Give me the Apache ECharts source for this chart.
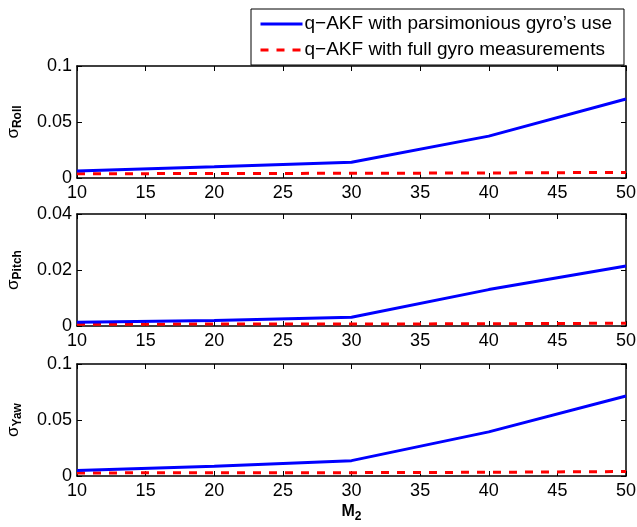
<!DOCTYPE html>
<html>
<head>
<meta charset="utf-8">
<script src="https://cdn.jsdelivr.net/npm/echarts@6/dist/echarts.min.js"></script>
<style>
  html, body { margin: 0; padding: 0; background: #fff; }
  #main { width: 637px; height: 527px; }
</style>
</head>
<body>
<div id="main"></div>
<script>
// M2 values on the x axis
var m2 = [10, 20, 30, 40, 50]
var seriesNames = ['q\u2212AKF with parsimonious gyro\u2019s use', 'q\u2212AKF with full gyro measurements']

// sigma values
var rollParsimonious = [0.0062, 0.010, 0.014, 0.0374, 0.0706]
var rollFull = [0.0038, 0.004, 0.0042, 0.0045, 0.005]
var pitchParsimonious = [0.0013, 0.002, 0.0031, 0.013, 0.0214]
var pitchFull = [0.0006, 0.0007, 0.0007, 0.0008, 0.001]
var yawParsimonious = [0.0048, 0.0086, 0.0137, 0.0394, 0.0714]
var yawFull = [0.0027, 0.003, 0.003, 0.0033, 0.004]

var panelLabels = ['Roll', 'Pitch', 'Yaw']
var panelMax = [0.1, 0.04, 0.1]
var panelStep = [0.05, 0.02, 0.05]
var panelTops = [66, 214, 364]

var chart = echarts.init(document.getElementById('main'))
var font = 'Liberation Sans, Arial, Helvetica, sans-serif'

function pairs(ys) {
  return m2.map(function (x, i) { return [x, ys[i]] })
}

var grids = [], xAxes = [], yAxes = [], series = []
var panelData = [
  [rollParsimonious, rollFull],
  [pitchParsimonious, pitchFull],
  [yawParsimonious, yawFull]
]

for (let g = 0; g < 3; g++) {
  grids.push({ left: 77, right: 11, top: panelTops[g], height: 112, outerBoundsMode: 'none', containLabel: false })

  // bottom axis with labels
  xAxes.push({
    type: 'value', gridIndex: g, min: 10, max: 50, interval: 5,
    axisLine: { onZero: false, lineStyle: { color: '#000', width: 1.5 } },
    axisTick: { inside: true, length: 5, lineStyle: { color: '#000' } },
    axisLabel: { color: '#000', fontSize: 18, fontFamily: font, margin: 6 },
    splitLine: { show: false },
    name: g == 2 ? '{m|M}{s|2}' : '',
    nameLocation: 'middle', nameGap: 24,
    nameTextStyle: {
      rich: {
        m: { fontSize: 16, fontWeight: 'bold', color: '#000', fontFamily: font },
        s: { fontSize: 12, fontWeight: 'bold', color: '#000', fontFamily: font, padding: [11, 0, 0, 0] }
      }
    }
  })
  // mirrored top axis (ticks only)
  xAxes.push({
    type: 'value', gridIndex: g, position: 'top', min: 10, max: 50, interval: 5,
    axisLine: { onZero: false, lineStyle: { color: '#000', width: 1.5 } },
    axisTick: { inside: true, length: 5, lineStyle: { color: '#000' } },
    axisLabel: { show: false },
    splitLine: { show: false }
  })

  yAxes.push({
    type: 'value', gridIndex: g, min: 0, max: panelMax[g], interval: panelStep[g],
    axisLine: { show: true, onZero: false, lineStyle: { color: '#000', width: 1.5 } },
    axisTick: { show: true, inside: true, length: 5, lineStyle: { color: '#000' } },
    axisLabel: { color: '#000', fontSize: 18, fontFamily: font, margin: 5 },
    splitLine: { show: false },
    name: '{a|\u03c3}{b|' + panelLabels[g] + '}',
    nameLocation: 'middle', nameRotate: 90, nameGap: 53,
    nameTextStyle: {
      rich: {
        a: { fontSize: 17, color: '#000', fontFamily: font },
        b: { fontSize: 12, fontWeight: 'bold', color: '#000', fontFamily: font, padding: [10, 0, 0, 0] }
      }
    }
  })
  // mirrored right axis (ticks only)
  yAxes.push({
    type: 'value', gridIndex: g, position: 'right', min: 0, max: panelMax[g], interval: panelStep[g],
    axisLine: { show: true, onZero: false, lineStyle: { color: '#000', width: 1.5 } },
    axisTick: { show: true, inside: true, length: 5, lineStyle: { color: '#000' } },
    axisLabel: { show: false },
    splitLine: { show: false }
  })

  series.push({
    name: seriesNames[0], type: 'line', xAxisIndex: g * 2, yAxisIndex: g * 2,
    data: pairs(panelData[g][0]), symbol: 'none',
    lineStyle: { color: '#0000ff', width: 3 }, itemStyle: { color: '#0000ff' },
    z: 3
  })
  series.push({
    name: seriesNames[1], type: 'line', xAxisIndex: g * 2, yAxisIndex: g * 2,
    data: pairs(panelData[g][1]), symbol: 'none',
    lineStyle: { color: '#ff0000', width: 3, type: [8, 8] }, itemStyle: { color: '#ff0000' },
    z: 2
  })
}

chart.setOption({
  animation: false,
  backgroundColor: '#fff',
  grid: grids,
  xAxis: xAxes,
  yAxis: yAxes,
  legend: {
    data: seriesNames,
    orient: 'vertical',
    left: 251, top: 9,
    itemWidth: 42, itemHeight: 14, itemGap: 6,
    padding: [5, 12, 5, 8],
    borderColor: '#000', borderWidth: 1,
    backgroundColor: '#fff',
    itemStyle: { opacity: 0 },
    lineStyle: { width: 3 },
    textStyle: { color: '#000', fontSize: 19, lineHeight: 20, fontFamily: font, padding: [0, 0, 0, -3] }
  },
  series: series
})
</script>
</body>
</html>
